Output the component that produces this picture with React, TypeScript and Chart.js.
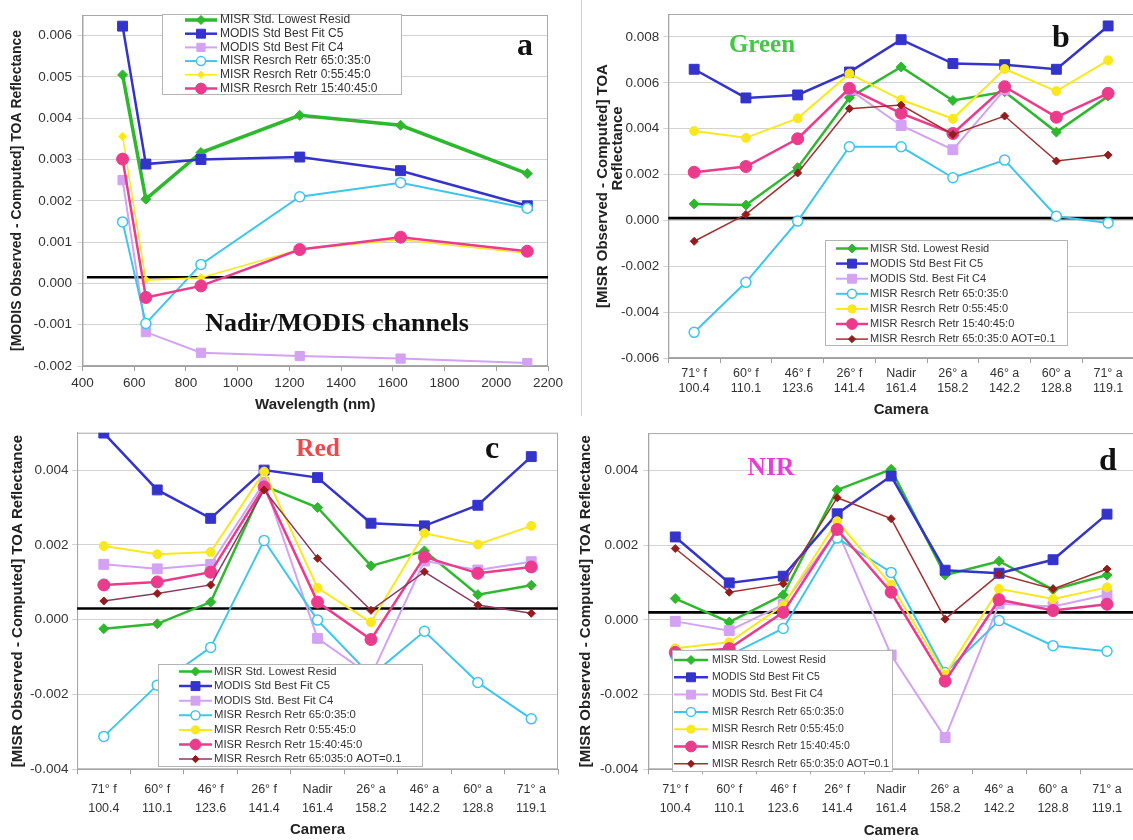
import React, { useEffect, useRef } from 'react';
import { Chart, registerables } from 'chart.js';

Chart.register(...registerables);

const SANS = "'Liberation Sans', Arial, Helvetica, sans-serif";
const SERIF = "'Liberation Serif', 'Times New Roman', serif";

// ---------- Panel a (Nadir / MODIS channels) ----------
const wavelengths = [555, 645, 858, 1240, 1630, 2120];
const aLowestResid = [0.00505, 0.00204, 0.00317, 0.00407, 0.00383, 0.00266];
const aModisC5 = [0.00623, 0.00289, 0.003, 0.00306, 0.00273, 0.00188];
const aModisC4 = [0.0025, -0.00118, -0.00168, -0.00176, -0.00182, -0.00193];
const aRetr65 = [0.00149, -0.00097, 0.00046, 0.0021, 0.00244, 0.00182];
const aRetr055 = [0.00356, 0.00008, 0.00014, 0.00082, 0.00106, 0.00073];
const aRetr1540 = [0.00301, -0.00034, -0.00006, 0.00082, 0.00112, 0.00078];

// ---------- Cameras (panels b, c, d) ----------
const cameraNames = ['71° f', '60° f', '46° f', '26° f', 'Nadir', '26° a', '46° a', '60° a', '71° a'];
const cameraAngles = ['100.4', '110.1', '123.6', '141.4', '161.4', '158.2', '142.2', '128.8', '119.1'];

// ---------- Panel b (Green) ----------
const bLowestResid = [0.00072, 0.00067, 0.0023, 0.00535, 0.00669, 0.00523, 0.00561, 0.00385, 0.00542];
const bModisC5 = [0.00659, 0.00534, 0.00547, 0.00647, 0.00788, 0.00684, 0.00679, 0.00659, 0.00848];
const bModisC4 = [null, null, null, 0.0057, 0.00414, 0.00308, 0.0057, null, null];
const bRetr65 = [-0.00488, -0.0027, -0.00003, 0.00321, 0.00321, 0.00186, 0.00263, 0.00018, -0.00011];
const bRetr055 = [0.0039, 0.0036, 0.00445, 0.0064, 0.00526, 0.00443, 0.0066, 0.00564, 0.00698];
const bRetr1540 = [0.0021, 0.00235, 0.00356, 0.00576, 0.00467, 0.00379, 0.00583, 0.0045, 0.00554];
const bRetrAot = [-0.00091, 0.00026, 0.00207, 0.00487, 0.00503, 0.00375, 0.00455, 0.00259, 0.00285];

// ---------- Panel c (Red) ----------
const cLowestResid = [-0.00024, -0.00011, 0.00047, 0.00358, 0.003, 0.00144, 0.00184, 0.00067, 0.00092];
const cModisC5 = [0.00499, 0.00347, 0.00271, 0.004, 0.0038, 0.00258, 0.00251, 0.00306, 0.00436];
const cModisC4 = [0.00148, 0.00136, 0.00148, 0.00367, -0.0005, -0.0015, 0.00157, 0.00133, 0.00155];
const cRetr65 = [-0.00312, -0.00175, -0.00074, 0.00212, -0.00001, -0.0015, -0.00031, -0.00168, -0.00265];
const cRetr055 = [0.00197, 0.00175, 0.00181, 0.00396, 0.00085, -0.00007, 0.00231, 0.00201, 0.00251];
const cRetr1540 = [0.00093, 0.00101, 0.00127, 0.00355, 0.00047, -0.00053, 0.00168, 0.00124, 0.00141];
const cRetrAot = [0.0005, 0.0007, 0.00093, 0.00347, 0.00164, 0.00025, 0.00128, 0.00039, 0.00017];

// ---------- Panel d (NIR) ----------
const dLowestResid = [0.00057, -0.00006, 0.00067, 0.00348, 0.00403, 0.0012, 0.00157, 0.00081, 0.0012];
const dModisC5 = [0.00222, 0.00099, 0.00117, 0.00284, 0.00385, 0.00133, 0.00125, 0.00161, 0.00283];
const dModisC4 = [-0.00004, -0.00029, 0.00041, 0.0024, -0.00094, -0.00315, 0.00043, 0.00036, 0.00067];
const dRetr65 = [-0.00095, -0.00095, -0.00023, 0.00219, 0.00127, -0.00141, -0.00002, -0.00069, -0.00084];
const dRetr055 = [-0.00076, -0.0006, 0.00039, 0.00264, 0.00094, -0.00147, 0.00083, 0.00056, 0.00087];
const dRetr1540 = [-0.00087, -0.00077, 0.0002, 0.00242, 0.00074, -0.00164, 0.00054, 0.00025, 0.00042];
const dRetrAot = [0.00191, 0.00074, 0.00097, 0.00327, 0.00271, 0.00002, 0.00122, 0.00083, 0.00136];

// ---------- Legend labels ----------
const labelsA = [
  'MISR Std. Lowest Resid',
  'MODIS Std Best Fit C5',
  'MODIS Std Best Fit C4',
  'MISR Resrch Retr 65:0:35:0',
  'MISR Resrch Retr 0:55:45:0',
  'MISR Resrch Retr 15:40:45:0',
];
const labelsBD = [
  'MISR Std. Lowest Resid',
  'MODIS Std Best Fit C5',
  'MODIS Std. Best Fit C4',
  'MISR Resrch Retr 65:0:35:0',
  'MISR Resrch Retr 0:55:45:0',
  'MISR Resrch Retr 15:40:45:0',
  'MISR Resrch Retr 65:0:35:0 AOT=0.1',
];
const labelsC = [
  'MISR Std. Lowest Resid',
  'MODIS Std Best Fit C5',
  'MODIS Std. Best Fit C4',
  'MISR Resrch Retr 65:0:35:0',
  'MISR Resrch Retr 0:55:45:0',
  'MISR Resrch Retr 15:40:45:0',
  'MISR Resrch Retr 65:035:0 AOT=0.1',
];

type Style = { color: string; width: number; point: string; r: number; fill?: string; marker?: string };

const baseStyles: Style[] = [
  { color: '#2db82d', width: 2.5, point: 'rectRot', r: 5 },
  { color: '#3434cc', width: 2.5, point: 'rect', r: 7 },
  { color: '#d3a2f2', width: 2, point: 'rect', r: 7 },
  { color: '#3cc6ee', width: 2, point: 'circle', r: 5, fill: '#ffffff' },
  { color: '#f9e81c', width: 2, point: 'circle', r: 4.5 },
  { color: '#ec3a8c', width: 2.5, point: 'circle', r: 6 },
  { color: '#a33030', width: 1.5, point: 'rectRot', r: 4, marker: '#951c1c' },
];
const stylesA: Style[] = [
  { color: '#2db82d', width: 3.5, point: 'rectRot', r: 5 },
  { color: '#3434cc', width: 2.5, point: 'rect', r: 7 },
  { color: '#d3a2f2', width: 2, point: 'rect', r: 6.5 },
  { color: '#3cc6ee', width: 2, point: 'circle', r: 5, fill: '#ffffff' },
  { color: '#f9e81c', width: 1.5, point: 'rectRot', r: 4 },
  { color: '#ec3a8c', width: 2.5, point: 'circle', r: 6 },
];
const stylesC: Style[] = baseStyles.map((s, i) =>
  i === 6 ? { ...s, color: '#8a3a60', marker: '#951c1c' } : s
);

function yTick(v: any) {
  const n = Number(v);
  return Math.abs(n) < 1e-9 ? '0.000' : n.toFixed(3);
}

function drawMarker(ctx: CanvasRenderingContext2D, style: string, x: number, y: number, r: number, fill: string, stroke: string, bw: number) {
  ctx.beginPath();
  if (style === 'circle') {
    ctx.arc(x, y, r, 0, Math.PI * 2);
  } else if (style === 'rect') {
    const s = r * Math.SQRT1_2;
    ctx.rect(x - s, y - s, 2 * s, 2 * s);
  } else {
    ctx.moveTo(x, y - r);
    ctx.lineTo(x + r, y);
    ctx.lineTo(x, y + r);
    ctx.lineTo(x - r, y);
    ctx.closePath();
  }
  ctx.fillStyle = fill;
  ctx.fill();
  ctx.lineWidth = bw;
  ctx.strokeStyle = stroke;
  ctx.stroke();
}

const refLinePlugin = {
  id: 'refLine',
  beforeDatasetsDraw(chart: any, _args: any, opts: any) {
    const { ctx, chartArea } = chart;
    ctx.save();
    ctx.strokeStyle = '#a8a8a8';
    ctx.lineWidth = 1;
    ctx.strokeRect(chartArea.left + 0.5, chartArea.top + 0.5, chartArea.width - 1, chartArea.height - 1);
    const y = chart.scales.y.getPixelForValue(opts.value);
    const x1 = opts.xFrom != null ? chart.scales.x.getPixelForValue(opts.xFrom) : chartArea.left;
    ctx.strokeStyle = '#000000';
    ctx.lineWidth = 2.6;
    ctx.beginPath();
    ctx.moveTo(x1, y);
    ctx.lineTo(chartArea.right, y);
    ctx.stroke();
    ctx.restore();
  },
};

const boxLegendPlugin = {
  id: 'boxLegend',
  afterDatasetsDraw(chart: any, _args: any, o: any) {
    const ctx: CanvasRenderingContext2D = chart.ctx;
    ctx.save();
    ctx.fillStyle = '#ffffff';
    ctx.fillRect(o.x, o.y, o.w, o.h);
    ctx.strokeStyle = '#b4b4b4';
    ctx.lineWidth = 1;
    ctx.strokeRect(o.x + 0.5, o.y + 0.5, o.w - 1, o.h - 1);
    ctx.font = `${o.fontSize}px ${SANS}`;
    ctx.textBaseline = 'middle';
    ctx.textAlign = 'left';
    chart.data.datasets.forEach((ds: any, i: number) => {
      const y = o.rowY + i * o.rowH;
      ctx.strokeStyle = ds.borderColor;
      ctx.lineWidth = ds.borderWidth;
      ctx.beginPath();
      ctx.moveTo(o.lineX1, y);
      ctx.lineTo(o.lineX2, y);
      ctx.stroke();
      drawMarker(ctx, ds.pointStyle, (o.lineX1 + o.lineX2) / 2, y, ds.pointRadius * 0.9,
        ds.pointBackgroundColor, ds.pointBorderColor, ds.pointBorderWidth);
      ctx.fillStyle = '#333333';
      ctx.fillText(ds.label, o.textX, y);
    });
    ctx.restore();
  },
};

type Spec = {
  box: { x: number; y: number; w: number; h: number };
  area: { left: number; right: number; top: number; bottom: number };
  series: (number | null)[][];
  labels: string[];
  styles: Style[];
  xValues?: number[];
  yMin: number; yMax: number; yStep: number;
  yTitle: string | string[]; yTitleSize: number; yTitleLH: number; yTitlePad: number;
  yTickPad: number;
  xTitle: string; xTitlePad: number;
  xTickPad: number; xTickLH: number; xTickSize: number;
  ref: { value: number; xFrom?: number };
  legend: { x: number; y: number; w: number; h: number; rowY: number; rowH: number; lineX1: number; lineX2: number; textX: number; fontSize: number };
};

function buildConfig(p: Spec): any {
  const { box, area } = p;
  const datasets = p.series.map((vals, i) => {
    const st = p.styles[i];
    const mk = st.marker || st.color;
    return {
      label: p.labels[i],
      data: p.xValues ? vals.map((v, j) => ({ x: p.xValues![j], y: v })) : vals,
      borderColor: st.color,
      backgroundColor: st.fill || mk,
      borderWidth: st.width,
      pointStyle: st.point,
      pointRadius: st.r,
      pointHoverRadius: st.r,
      pointBackgroundColor: st.fill || mk,
      pointBorderColor: st.fill ? st.color : mk,
      pointBorderWidth: st.fill ? 1.5 : 1,
      tension: 0,
      fill: false,
      spanGaps: false,
      order: 20 - i,
    };
  });
  const lg = p.legend;
  const xScale: any = p.xValues
    ? {
        type: 'linear',
        min: 400,
        max: 2200,
        ticks: {
          stepSize: 200,
          callback: (v: any) => String(v),
          font: { family: SANS, size: p.xTickSize, lineHeight: p.xTickLH + 'px' },
          color: '#333333',
          padding: p.xTickPad,
          maxRotation: 0,
        },
      }
    : {
        type: 'category',
        offset: true,
        ticks: {
          autoSkip: false,
          maxRotation: 0,
          font: { family: SANS, size: p.xTickSize, lineHeight: p.xTickLH + 'px' },
          color: '#333333',
          padding: p.xTickPad,
        },
      };
  Object.assign(xScale, {
    grid: { display: true, drawOnChartArea: false, drawTicks: true, tickLength: 5, color: '#a0a0a0', offset: !p.xValues },
    border: { display: true, color: '#a0a0a0' },
    title: {
      display: true,
      text: p.xTitle,
      color: '#222222',
      font: { family: SANS, size: 15, weight: 'bold', lineHeight: '18px' },
      padding: { top: 0, bottom: p.xTitlePad },
    },
    afterFit: (s: any) => { s.height = box.y + box.h - area.bottom; },
  });
  return {
    type: 'line',
    data: {
      labels: p.xValues ? undefined : cameraNames.map((c, i) => [c, cameraAngles[i]]),
      datasets,
    },
    options: {
      animation: false,
      responsive: true,
      maintainAspectRatio: false,
      events: [],
      layout: { padding: { top: area.top - box.y, right: box.x + box.w - area.right, left: 0, bottom: 0 } },
      plugins: {
        legend: { display: false },
        tooltip: { enabled: false },
        refLine: p.ref,
        boxLegend: {
          x: lg.x - box.x, y: lg.y - box.y, w: lg.w, h: lg.h,
          rowY: lg.rowY - box.y, rowH: lg.rowH,
          lineX1: lg.lineX1 - box.x, lineX2: lg.lineX2 - box.x, textX: lg.textX - box.x,
          fontSize: lg.fontSize,
        },
      },
      scales: {
        x: xScale,
        y: {
          type: 'linear',
          min: p.yMin,
          max: p.yMax,
          ticks: {
            stepSize: p.yStep,
            includeBounds: false,
            callback: yTick,
            font: { family: SANS, size: 13.5 },
            color: '#333333',
            padding: p.yTickPad,
          },
          grid: { color: '#d2d2d2', drawTicks: true, tickLength: 5 },
          border: { display: true, color: '#a0a0a0' },
          title: {
            display: true,
            text: p.yTitle,
            color: '#222222',
            font: { family: SANS, size: p.yTitleSize, weight: 'bold', lineHeight: p.yTitleLH + 'px' },
            padding: { top: p.yTitlePad, bottom: 0 },
          },
          afterFit: (s: any) => { s.width = area.left - box.x; },
        },
      },
    },
    plugins: [refLinePlugin, boxLegendPlugin],
  };
}

const specA: Spec = {
  box: { x: 0, y: 0, w: 580, h: 420 },
  area: { left: 82.5, right: 548, top: 15, bottom: 366 },
  series: [aLowestResid, aModisC5, aModisC4, aRetr65, aRetr055, aRetr1540],
  labels: labelsA,
  styles: stylesA,
  xValues: wavelengths,
  yMin: -0.002, yMax: 0.0065, yStep: 0.001,
  yTitle: '[MODIS Observed - Computed] TOA Reflectance', yTitleSize: 14, yTitleLH: 17, yTitlePad: 9,
  yTickPad: 5.5,
  xTitle: 'Wavelength (nm)', xTitlePad: 6,
  xTickPad: 4, xTickLH: 16, xTickSize: 13.5,
  ref: { value: 0.00015, xFrom: 417 },
  legend: { x: 162, y: 14, w: 240, h: 81, rowY: 20, rowH: 13.7, lineX1: 185, lineX2: 217, textX: 220, fontSize: 12 },
};

const specB: Spec = {
  box: { x: 582, y: 0, w: 560, h: 420 },
  area: { left: 668.3, right: 1137, top: 14, bottom: 358 },
  series: [bLowestResid, bModisC5, bModisC4, bRetr65, bRetr055, bRetr1540, bRetrAot],
  labels: labelsBD,
  styles: baseStyles,
  yMin: -0.006, yMax: 0.009, yStep: 0.002,
  yTitle: ['[MISR Observed - Computed] TOA', '                  Reflectance'], yTitleSize: 15, yTitleLH: 15, yTitlePad: 13,
  yTickPad: 4,
  xTitle: 'Camera', xTitlePad: 1,
  xTickPad: 3.5, xTickLH: 15, xTickSize: 12.5,
  ref: { value: 0.0001 },
  legend: { x: 825, y: 240, w: 243, h: 106, rowY: 248.5, rowH: 15.1, lineX1: 836, lineX2: 868, textX: 870, fontSize: 11 },
};

const specC: Spec = {
  box: { x: 0, y: 420, w: 575, h: 420 },
  area: { left: 77.1, right: 558, top: 432.7, bottom: 769.3 },
  series: [cLowestResid, cModisC5, cModisC4, cRetr65, cRetr055, cRetr1540, cRetrAot],
  labels: labelsC,
  styles: stylesC,
  yMin: -0.004, yMax: 0.005, yStep: 0.002,
  yTitle: '[MISR Observed - Computed] TOA Reflectance', yTitleSize: 15, yTitleLH: 18, yTitlePad: 9,
  yTickPad: 3.7,
  xTitle: 'Camera', xTitlePad: 1,
  xTickPad: 5, xTickLH: 19.5, xTickSize: 12.5,
  ref: { value: 0.0003 },
  legend: { x: 158, y: 664, w: 265, h: 103, rowY: 671.5, rowH: 14.6, lineX1: 179, lineX2: 212, textX: 214, fontSize: 11.3 },
};

const specD: Spec = {
  box: { x: 575, y: 420, w: 567, h: 420 },
  area: { left: 648.3, right: 1137.6, top: 432.7, bottom: 769.3 },
  series: [dLowestResid, dModisC5, dModisC4, dRetr65, dRetr055, dRetr1540, dRetrAot],
  labels: labelsBD,
  styles: baseStyles,
  yMin: -0.004, yMax: 0.005, yStep: 0.002,
  yTitle: '[MISR Observed - Computed] TOA Reflectance', yTitleSize: 15, yTitleLH: 18, yTitlePad: 2,
  yTickPad: 5,
  xTitle: 'Camera', xTitlePad: 0.5,
  xTickPad: 5.5, xTickLH: 19, xTickSize: 12.5,
  ref: { value: 0.0002 },
  legend: { x: 672, y: 650, w: 221, h: 122, rowY: 660, rowH: 17.3, lineX1: 674, lineX2: 708, textX: 712, fontSize: 10.5 },
};

function ChartPanel({ spec }: { spec: Spec }) {
  const ref = useRef<HTMLCanvasElement>(null);
  useEffect(() => {
    const chart = new Chart(ref.current as HTMLCanvasElement, buildConfig(spec));
    return () => chart.destroy();
  }, []);
  const { box } = spec;
  return (
    <div style={{ position: 'absolute', left: box.x, top: box.y, width: box.w, height: box.h }}>
      <canvas ref={ref} />
    </div>
  );
}

function SerifLabel({ text, cx, baseline, size, color }: { text: string; cx: number; baseline: number; size: number; color: string }) {
  return (
    <div
      style={{
        position: 'absolute',
        left: cx,
        top: baseline - 0.8375 * size,
        transform: 'translateX(-50%)',
        fontFamily: SERIF,
        fontWeight: 'bold',
        fontSize: size,
        lineHeight: `${size}px`,
        color,
        whiteSpace: 'nowrap',
        pointerEvents: 'none',
      }}
    >
      {text}
    </div>
  );
}

export default function App() {
  return (
    <div style={{ position: 'absolute', left: 0, top: 0, width: 1133, height: 840, overflow: 'hidden', background: '#ffffff' }}>
      <div style={{ position: 'absolute', left: 581, top: 0, width: 1, height: 416, background: '#cfcfcf' }} />
      <ChartPanel spec={specA} />
      <ChartPanel spec={specB} />
      <ChartPanel spec={specC} />
      <ChartPanel spec={specD} />
      <SerifLabel text="a" cx={525} baseline={55} size={32} color="#111111" />
      <SerifLabel text="Nadir/MODIS channels" cx={337} baseline={332} size={26} color="#111111" />
      <SerifLabel text="Green" cx={762} baseline={52} size={25} color="#44c844" />
      <SerifLabel text="b" cx={1061} baseline={47} size={32} color="#111111" />
      <SerifLabel text="Red" cx={318} baseline={456.5} size={25.5} color="#ee4848" />
      <SerifLabel text="c" cx={492} baseline={458} size={32} color="#111111" />
      <SerifLabel text="NIR" cx={771} baseline={475} size={25.5} color="#e63fd2" />
      <SerifLabel text="d" cx={1108} baseline={470} size={32} color="#111111" />
    </div>
  );
}
